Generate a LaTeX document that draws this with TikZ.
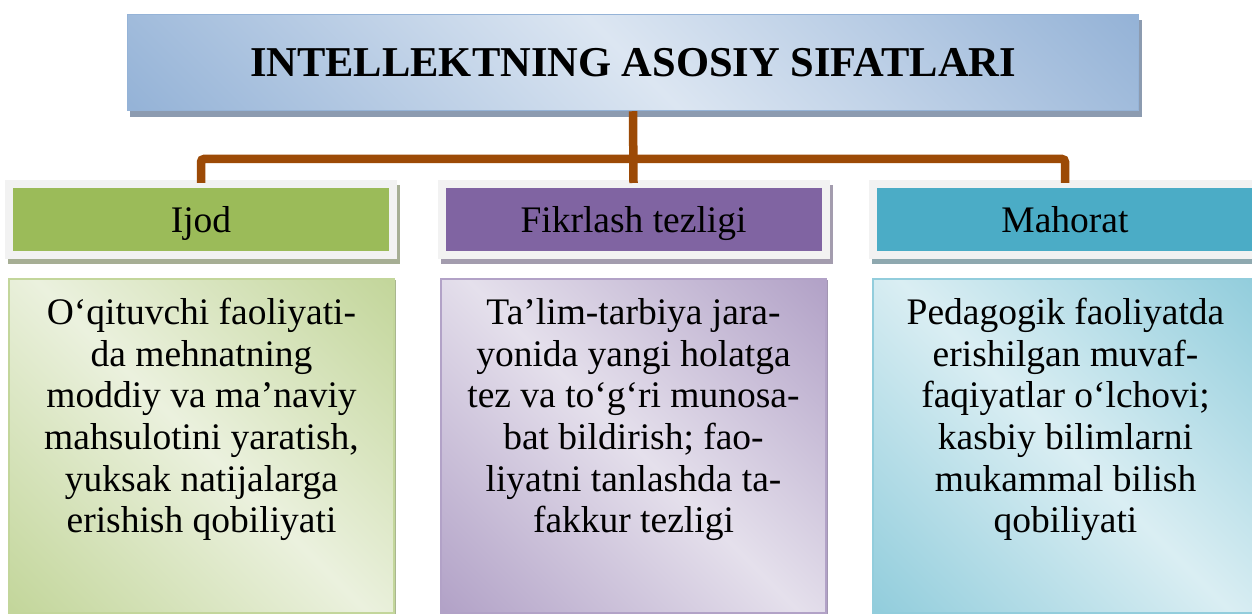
\documentclass[tikz,border=0pt]{standalone}
\usepackage{fontspec}
\setmainfont{Liberation Serif}
\usetikzlibrary{shadows}
\definecolor{tdark}{HTML}{95B3D7}
\definecolor{tlight}{HTML}{DCE6F2}
\definecolor{tborder}{HTML}{95B3D7}
\definecolor{tshadow}{HTML}{8C9BB0}
\definecolor{conncol}{HTML}{9C4A06}
\definecolor{framecol}{HTML}{F2F2F2}
\definecolor{hgreen}{HTML}{9BBB59}
\definecolor{hpurple}{HTML}{8064A2}
\definecolor{hteal}{HTML}{4BACC6}
\definecolor{sgreen}{HTML}{A6AE94}
\definecolor{spurple}{HTML}{A39CAE}
\definecolor{steal}{HTML}{8EA8AF}
\definecolor{gdark}{HTML}{C3D69B}
\definecolor{glight}{HTML}{EBF1DE}
\definecolor{pdark}{HTML}{B2A2C7}
\definecolor{plight}{HTML}{E5E0EC}
\definecolor{cdark}{HTML}{92CDDC}
\definecolor{clight}{HTML}{DAEEF3}
\definecolor{bsgreen}{HTML}{A9B68F}
\definecolor{bspurple}{HTML}{A296B2}
\definecolor{bsteal}{HTML}{86B7C4}
\pgfdeclarehorizontalshading{shblue}{100bp}{color(0bp)=(tdark); color(15bp)=(tdark); color(50bp)=(tlight); color(85bp)=(tdark); color(100bp)=(tdark)}
\pgfdeclarehorizontalshading{shgreen}{100bp}{color(0bp)=(gdark); color(15bp)=(gdark); color(50bp)=(glight); color(85bp)=(gdark); color(100bp)=(gdark)}
\pgfdeclarehorizontalshading{shpurple}{100bp}{color(0bp)=(pdark); color(15bp)=(pdark); color(50bp)=(plight); color(85bp)=(pdark); color(100bp)=(pdark)}
\pgfdeclarehorizontalshading{shteal}{100bp}{color(0bp)=(cdark); color(15bp)=(cdark); color(50bp)=(clight); color(85bp)=(cdark); color(100bp)=(cdark)}
\begin{document}
\begin{tikzpicture}[x=1pt,y=1pt,
  titlebox/.style={shade, shading=shblue, shading angle=45, draw=tborder, line width=1.5pt,
    minimum width=1011pt, minimum height=96pt, inner sep=0pt,
    general shadow={fill=tshadow, draw=tshadow, shadow xshift=3pt, shadow yshift=-6pt},
    font=\fontsize{42.5}{48}\selectfont\bfseries},
  hdr/.style={draw=framecol, line width=8pt, minimum width=384pt, minimum height=71pt,
    inner sep=0pt, text height=36pt, text depth=9pt, font=\fontsize{37.5}{42}\selectfont},
  bodybox/.style={shade, shading angle=45, line width=2pt, minimum width=385pt,
    minimum height=334pt, inner sep=0pt},
  bodytext/.style={align=center, inner sep=0pt, anchor=base,
    font=\fontsize{37.5}{41.7}\selectfont},
  conn/.style={draw=conncol, line width=8.5pt, rounded corners=3pt}
]
\useasboundingbox (0,0) rectangle (1252,615);
\clip (0,0) rectangle (1252,615);
\fill[white] (0,0) rectangle (1252,615);

% title
\node[titlebox] (title) at (633,552.5) {INTELLEKTNING ASOSIY SIFATLARI};

% headers
\node[hdr, fill=hgreen, general shadow={fill=sgreen, draw=sgreen, shadow xshift=3pt, shadow yshift=-5pt}] (h1) at (201,395.5) {Ijod};
\node[hdr, fill=hpurple, general shadow={fill=spurple, draw=spurple, shadow xshift=3pt, shadow yshift=-5pt}] (h2) at (633.5,395.5) {Fikrlash tezligi};
\node[hdr, fill=hteal, general shadow={fill=steal, draw=steal, shadow xshift=3pt, shadow yshift=-5pt}] (h3) at (1065,395.5) {Mahorat};

% connectors
\coordinate (bar) at (633.5,456);
\draw[conn] (title.south) -- ([yshift=-3pt]h2.north);
\draw[conn] ([yshift=-3pt]h1.north) |- (bar) -| ([yshift=-3pt]h3.north);

% body boxes
\node[bodybox, shading=shgreen, draw=gdark, general shadow={fill=bsgreen, shadow xshift=2pt, shadow yshift=-1pt}] (b1) at (201.5,169) {};
\node[bodybox, shading=shpurple, draw=pdark, general shadow={fill=bspurple, shadow xshift=2pt, shadow yshift=-1pt}] (b2) at (633.5,169) {};
\node[bodybox, shading=shteal, draw=cdark, general shadow={fill=bsteal, shadow xshift=2pt, shadow yshift=-1pt}] (b3) at (1065.5,169) {};

\node[bodytext] (t1) at (201.5,82) {O‘qituvchi faoliyati-\\da mehnatning\\moddiy va ma’naviy\\mahsulotini yaratish,\\yuksak natijalarga\\erishish qobiliyati};
\node[bodytext] (t2) at (633.5,82) {Ta’lim-tarbiya jara-\\yonida yangi holatga\\tez va to‘g‘ri munosa-\\bat bildirish; fao-\\liyatni tanlashda ta-\\fakkur tezligi};
\node[bodytext] (t3) at (1065.5,82) {Pedagogik faoliyatda\\erishilgan muvaf-\\faqiyatlar o‘lchovi;\\kasbiy bilimlarni\\mukammal bilish\\qobiliyati};
\end{tikzpicture}
\end{document}
